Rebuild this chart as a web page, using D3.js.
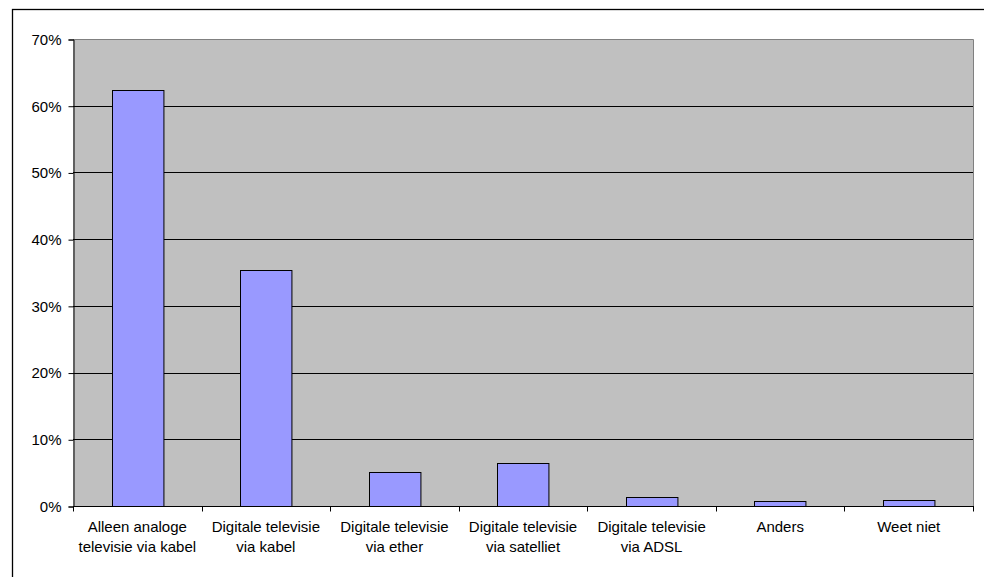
<!DOCTYPE html>
<html>
<head>
<meta charset="utf-8">
<script src="https://cdn.jsdelivr.net/npm/d3@7"></script>
<style>
  html, body { margin: 0; padding: 0; background: #fff; }
  svg { display: block; font-family: "Liberation Sans", Arial, sans-serif; }
</style>
</head>
<body>
<svg id="chart" width="984" height="577"></svg>
<script>
// Categories (two-line labels) and share of respondents per category
const categories = [
  ["Alleen analoge", "televisie via kabel"],
  ["Digitale televisie", "via kabel"],
  ["Digitale televisie", "via ether"],
  ["Digitale televisie", "via satelliet"],
  ["Digitale televisie", "via ADSL"],
  ["Anders"],
  ["Weet niet"]
];
const values = [0.624, 0.354, 0.051, 0.0645, 0.0135, 0.0075, 0.0095];
const yTicks = [0, 0.1, 0.2, 0.3, 0.4, 0.5, 0.6, 0.7];

const svg = d3.select("#chart");
const plot = { left: 73, right: 973, top: 39, bottom: 506 };
const fontSize = 15;

// Outer chart frame
svg.append("rect")
  .attr("x", 12.5).attr("y", 9.5)
  .attr("width", 1000).attr("height", 600)
  .attr("fill", "none").attr("stroke", "#000").attr("stroke-width", 1.3);

const x = d3.scaleBand()
  .domain(d3.range(categories.length))
  .range([plot.left, plot.right])
  .paddingInner(0.6).paddingOuter(0.3);

const xBand = d3.scaleBand()
  .domain(d3.range(categories.length))
  .range([plot.left, plot.right]);

const y = d3.scaleLinear().domain([0, 0.7]).range([plot.bottom, plot.top]);

// Plot area background
svg.append("rect")
  .attr("x", plot.left).attr("y", plot.top)
  .attr("width", plot.right - plot.left).attr("height", plot.bottom - plot.top)
  .attr("fill", "#c0c0c0");

// Gridlines
svg.append("g")
  .selectAll("line")
  .data(yTicks.slice(1, -1))
  .join("line")
  .attr("x1", plot.left).attr("x2", plot.right)
  .attr("y1", d => Math.round(y(d)) + 0.5).attr("y2", d => Math.round(y(d)) + 0.5)
  .attr("stroke", "#000").attr("stroke-width", 1);

// Top and right plot border (gray)
svg.append("path")
  .attr("d", `M${plot.left},${plot.top + 0.5}H${plot.right + 0.5}V${plot.bottom}`)
  .attr("fill", "none").attr("stroke", "#808080").attr("stroke-width", 1);

// Bars
svg.append("g")
  .selectAll("rect")
  .data(values)
  .join("rect")
  .attr("x", (d, i) => Math.round(x(i)) + 0.5)
  .attr("y", d => Math.round(y(d)) + 0.5)
  .attr("width", x.bandwidth())
  .attr("height", d => Math.round(y(0)) - Math.round(y(d)))
  .attr("fill", "#9999ff")
  .attr("stroke", "#000").attr("stroke-width", 1);

// Y axis
const yAxis = d3.axisLeft(y)
  .tickValues(yTicks)
  .tickFormat(d3.format(".0%"))
  .tickSize(5).tickPadding(7);
const gy = svg.append("g")
  .attr("transform", `translate(${plot.left + 0.5},0.5)`)
  .call(yAxis);
gy.selectAll("text").attr("font-size", fontSize).attr("fill", "#000")
  .attr("font-family", "Liberation Sans, Arial, sans-serif");
gy.select(".domain").attr("stroke", "#000");
gy.selectAll(".tick line").attr("stroke", "#000");

// X axis: ticks at category boundaries
const gx = svg.append("g").attr("transform", `translate(0,${plot.bottom + 0.5})`);
gx.append("line")
  .attr("x1", plot.left).attr("x2", plot.right + 1)
  .attr("stroke", "#000");
gx.selectAll("line.tick")
  .data(d3.range(categories.length + 1))
  .join("line")
  .attr("class", "tick")
  .attr("x1", i => Math.round(plot.left + i * xBand.bandwidth()) + 0.5)
  .attr("x2", i => Math.round(plot.left + i * xBand.bandwidth()) + 0.5)
  .attr("y1", 0).attr("y2", 5)
  .attr("stroke", "#000");

// Category labels
const labels = gx.selectAll("text.cat")
  .data(categories)
  .join("text")
  .attr("class", "cat")
  .attr("x", (d, i) => xBand(i) + xBand.bandwidth() / 2)
  .attr("y", 25)
  .attr("text-anchor", "middle")
  .attr("font-size", fontSize)
  .attr("fill", "#000");
labels.selectAll("tspan")
  .data(d => d)
  .join("tspan")
  .attr("x", function () { return d3.select(this.parentNode).attr("x"); })
  .attr("dy", (d, i) => i === 0 ? 0 : 20)
  .text(d => d);
</script>
</body>
</html>
